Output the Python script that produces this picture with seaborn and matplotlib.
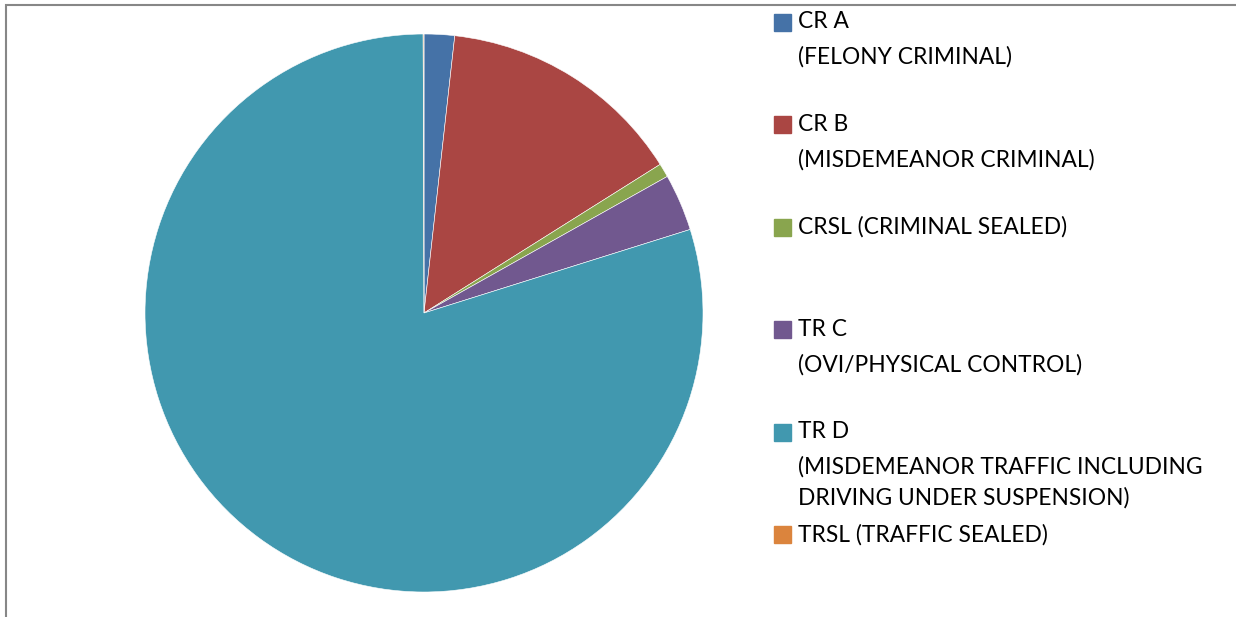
import matplotlib
matplotlib.use("Agg")
import matplotlib.pyplot as plt
import seaborn as sns
from matplotlib.patches import Rectangle

# categories and shares (percent), clockwise from 12 o'clock
categories = ["CR A", "CR B", "CRSL", "TR C", "TR D", "TRSL"]
shares = [1.76, 14.3, 0.8, 3.3, 79.79, 0.05]
legend_labels = [
    ["CR A", "(FELONY CRIMINAL)"],
    ["CR B", "(MISDEMEANOR CRIMINAL)"],
    ["CRSL (CRIMINAL SEALED)"],
    ["TR C", "(OVI/PHYSICAL CONTROL)"],
    ["TR D", "(MISDEMEANOR TRAFFIC INCLUDING", "DRIVING UNDER SUSPENSION)"],
    ["TRSL (TRAFFIC SEALED)"],
]
colors = ["#4572A7", "#AA4643", "#89A54E", "#71588F", "#4198AF", "#DB843D"]

sns.set_theme(style="white")
plt.rcParams["font.family"] = ["Lato", "DejaVu Sans"]

W, H = 1236, 617
fig = plt.figure(figsize=(W / 100, H / 100), dpi=100)

# pie: centre (424, 313) px, radius 279 px
cx, cy, r = 424, 313, 279
ax = fig.add_axes([(cx - r) / W, (H - cy - r) / H, 2 * r / W, 2 * r / H])
pal = sns.color_palette(colors)
ax.pie(shares, colors=pal, startangle=90, counterclock=False, radius=1,
       wedgeprops=dict(edgecolor="white", linewidth=0.4))
ax.set_xlim(-1, 1)
ax.set_ylim(-1, 1)
ax.set_aspect("equal")
ax.axis("off")

# chart area border (runs off the right and bottom)
fig.patches.append(Rectangle((6 / W, -0.1), 2, 1 - 5 / H + 0.1,
                             transform=fig.transFigure, fill=False,
                             edgecolor="#878787", linewidth=1.5))


def fx(x):
    return x / W


def fy(y):
    return 1 - y / H


# legend, one slot of ~102.5 px per entry, text top aligned
for i, (lines, col) in enumerate(zip(legend_labels, colors)):
    y0 = 22 + i * 102.5
    fig.patches.append(Rectangle((fx(774), fy(y0 + 8.5)), 17 / W, 17 / H,
                                 transform=fig.transFigure, color=col))
    for j, line in enumerate(lines):
        y = y0 if j == 0 else y0 + 35 + (j - 1) * 31
        fig.text(fx(798), fy(y), line, fontsize=16.4, color="black",
                 va="center", ha="left")

fig.savefig("out.png", dpi=100)
